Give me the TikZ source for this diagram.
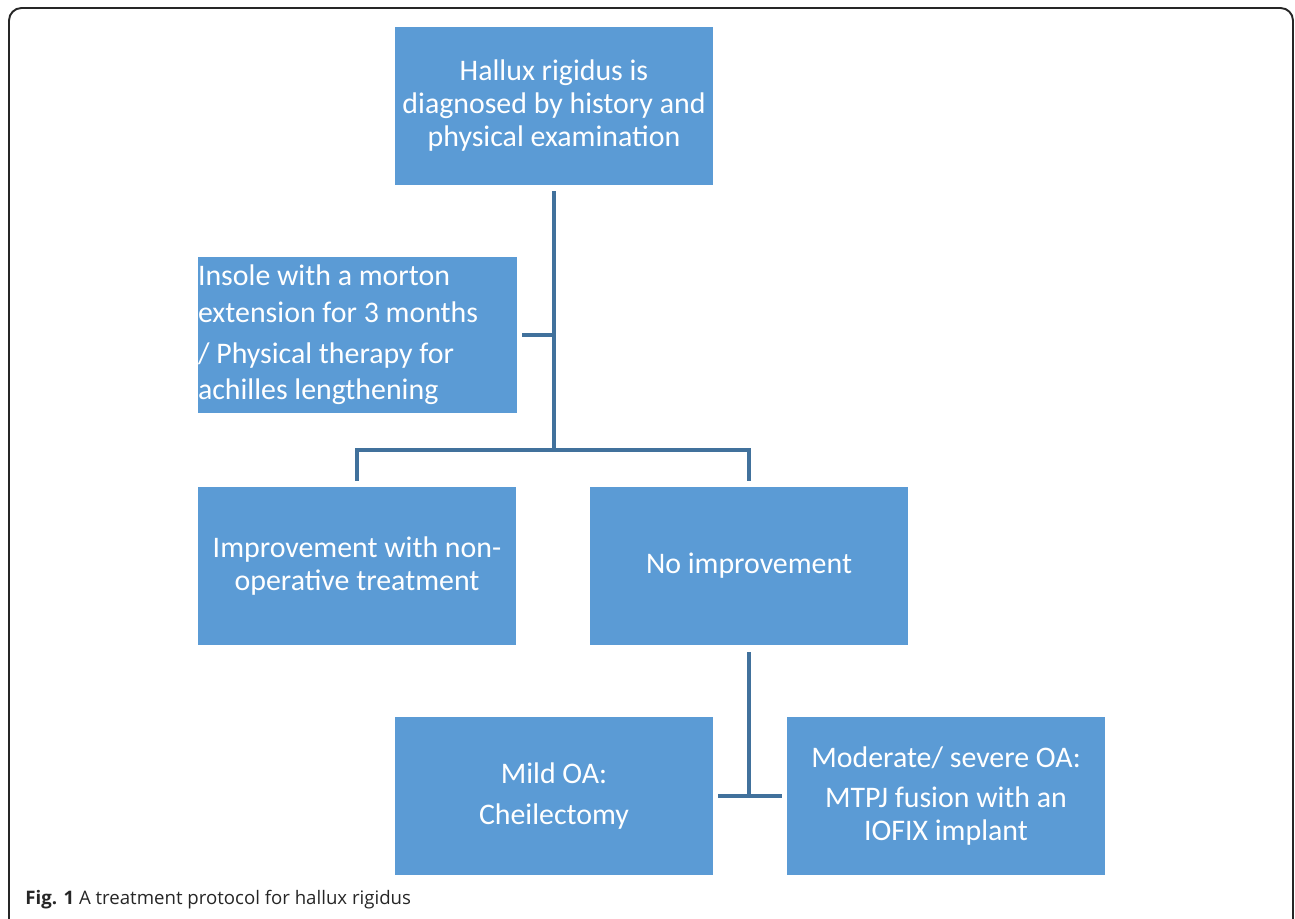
\documentclass[tikz,border=0pt]{standalone}
\usepackage{fontspec}
\setmainfont{Carlito}
\newfontfamily\capfont{Open Sans}
\definecolor{boxblue}{HTML}{5B9BD5}
\definecolor{lineblue}{HTML}{41719C}
\begin{document}
\begin{tikzpicture}[x=0.02cm,y=-0.02cm,
  box/.style={fill=boxblue,text=white,minimum width=6.36cm,minimum height=3.16cm,
    align=center,inner sep=0pt,font=\fontsize{17}{18.8}\selectfont},
  link/.style={draw=lineblue,line width=1.9pt}]
  \useasboundingbox (0,0) rectangle (1295,919);
  % frame
  \draw[line width=1.1pt,color=black!85,rounded corners=0.25cm]
    (9,930) -- (9,8) -- (1293,8) -- (1293,930);

  % root
  \node[box] (v0) at (554,106) {Hallux rigidus is\\diagnosed by history and\\physical examination};
  % level 1
  \node[box,text width=6.38cm,align=flush left,minimum width=6.38cm,minimum height=3.12cm,
    font=\fontsize{17}{21}\selectfont] (v1) at (357.5,335)
    {Insole with a morton\\extension for 3 months\\[2pt]/ Physical therapy for\\achilles lengthening};
  % level 2
  \node[box] (v2) at (357,566) {Improvement with non-\\operative treatment};
  \node[box] (v3) at (749,566) {No improvement};
  % level 3
  \node[box] (v4) at (554,796) {Mild OA:\\[4pt]Cheilectomy};
  \node[box] (v5) at (946,796) {Moderate/ severe OA:\\[4pt]MTPJ fusion with an\\IOFIX implant};

  % caption
  \node[anchor=west,inner sep=0pt,font=\capfont\fontsize{10.6}{12}\selectfont,text=black!85] (cap) at (25,900)
    {\textbf{Fig. 1} A treatment protocol for hallux rigidus};

  % junctions
  \coordinate (j0) at (554,450);
  \coordinate (j1) at (357,450);
  \coordinate (j2) at (749,450);
  \coordinate (j3) at (749,796);

  % level 0
  \draw[link] ([yshift=-0.12cm]v0.south) to (j0);
  \draw[link] ([xshift=0.1cm]v1.east) to (v1.east -| j0);
  % level 1
  \draw[link] ([yshift=0.12cm]v2.north) to (j1) to (j2) to ([yshift=0.12cm]v3.north);
  % level 2
  \draw[link] ([yshift=-0.14cm]v3.south) to (j3);
  \draw[link] ([xshift=0.1cm]v4.east) to ([xshift=-0.1cm]v5.west);
\end{tikzpicture}
\end{document}
